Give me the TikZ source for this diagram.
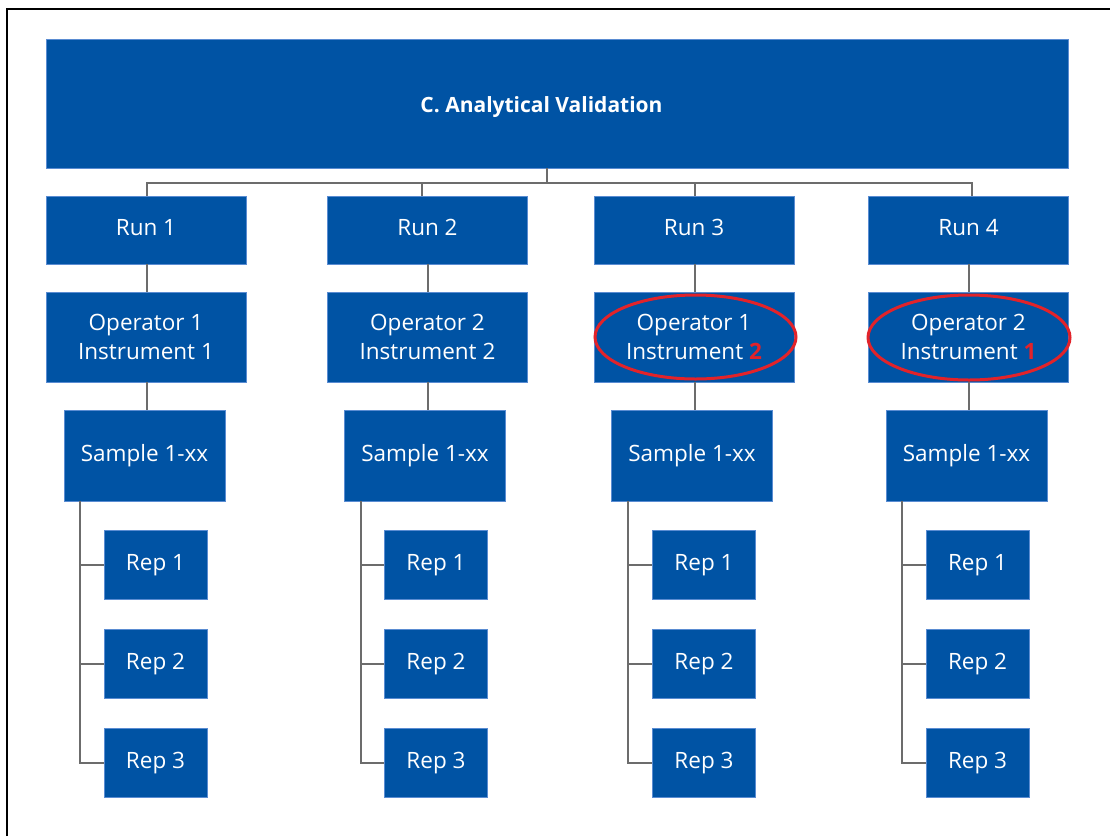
\documentclass[tikz,border=0pt]{standalone}
\usepackage{fontspec}
\setmainfont{Open Sans}
\usetikzlibrary{calc}
\definecolor{boxblue}{RGB}{0,83,164}
\definecolor{boxedge}{RGB}{90,140,210}
\definecolor{linegray}{RGB}{108,108,108}
\definecolor{ringred}{RGB}{226,35,42}
\tikzset{
  bx/.style={fill=boxblue, draw=boxedge, line width=0.5pt, text=white, inner sep=0pt,
    align=center, font=\fontsize{22.5}{28.7}\selectfont},
  oneline/.style={text height=16pt, text depth=5pt},
  runbox/.style={bx, oneline, minimum width=200pt, minimum height=68pt},
  opbox/.style={bx, minimum width=200pt, minimum height=90pt},
  smpbox/.style={bx, oneline, minimum width=161pt, minimum height=91pt},
  repbox/.style={bx, oneline, minimum width=103pt, minimum height=69pt},
  conn/.style={draw=linegray, line width=2pt},
  ring/.style={draw=ringred, line width=3pt},
  frame/.style={draw=black, line width=2pt}
}
\newcommand{\rd}[1]{{\bfseries\color{ringred}#1}}
\begin{document}
\begin{tikzpicture}[x=1pt,y=-1pt]
\useasboundingbox (0,0) rectangle (1110,836);
% frame (left and top edges only)
\draw[frame] (7,836) -- (7,9) -- (1110,9);

% title
\node[bx, minimum width=1022pt, minimum height=129pt] (title) at (557,103.5) {};
\node[text=white, font=\bfseries\fontsize{21}{25}\selectfont, inner sep=0pt, text height=15pt, text depth=5pt] (titletext) at (541.5,107) {C. Analytical Validation};

% runs
\node[runbox] (run1) at (146,230) {Run 1};
\node[runbox] (run2) at (427.5,230) {Run 2};
\node[runbox] (run3) at (694,230) {Run 3};
\node[runbox] (run4) at (968.5,230) {Run 4};

% operators
\node[opbox] (op1) at (146,337) {Operator 1\\Instrument 1};
\node[opbox] (op2) at (427.5,337) {Operator 2\\Instrument 2};
\node[opbox] (op3) at (694,337) {Operator 1\\Instrument \rd{2}};
\node[opbox] (op4) at (968.5,337) {Operator 2\\Instrument \rd{1}};

% samples
\node[smpbox] (s1) at (144.5,455.5) {Sample 1-xx};
\node[smpbox] (s2) at (425,455.5) {Sample 1-xx};
\node[smpbox] (s3) at (692,455.5) {Sample 1-xx};
\node[smpbox] (s4) at (966.5,455.5) {Sample 1-xx};

% reps
\foreach \c/\x in {1/155.5, 2/436, 3/704, 4/977.5}{
  \node[repbox] (r\c a) at (\x,564.5) {Rep 1};
  \node[repbox] (r\c b) at (\x,663.5) {Rep 2};
  \node[repbox] (r\c c) at (\x,762.5) {Rep 3};
}

% bus from title to runs
\draw[conn] ($(title.south)+(-10.3,0)$) -- ++(0,15);
\draw[conn] ($(run1.north)+(1,0)$) -- ++(0,-13) -- ($(run4.north)+(3.2,-13)$) -- ($(run4.north)+(3.2,0)$);
\draw[conn] ($(run2.north)+(-5.8,0)$) -- ++(0,-13);
\draw[conn] ($(run3.north)+(1,0)$) -- ++(0,-13);

% run -> operator -> sample
\foreach \c/\dx in {1/1, 2/0.2, 3/1, 4/0.5}{
  \draw[conn] ($(run\c.south)+(\dx,0)$) -- ($(op\c.north)+(\dx,0)$);
  \draw[conn] ($(op\c.south)+(\dx,0)$) -- ++(0,28);
}

% sample -> reps
\foreach \c in {1,2,3,4}{
  \coordinate (sl\c) at ($(s\c.south west)+(16.5,0)$);
  \draw[conn] (sl\c) |- (r\c c.west);
  \draw[conn] (sl\c) |- (r\c b.west);
  \draw[conn] (sl\c) |- (r\c a.west);
}

% red rings
\draw[ring] ($(op3.center)+(1.5,0)$) ellipse [x radius=100.5pt, y radius=42pt];
\draw[ring] ($(op4.center)+(0.5,0.5)$) ellipse [x radius=101pt, y radius=42.5pt];
\end{tikzpicture}
\end{document}
